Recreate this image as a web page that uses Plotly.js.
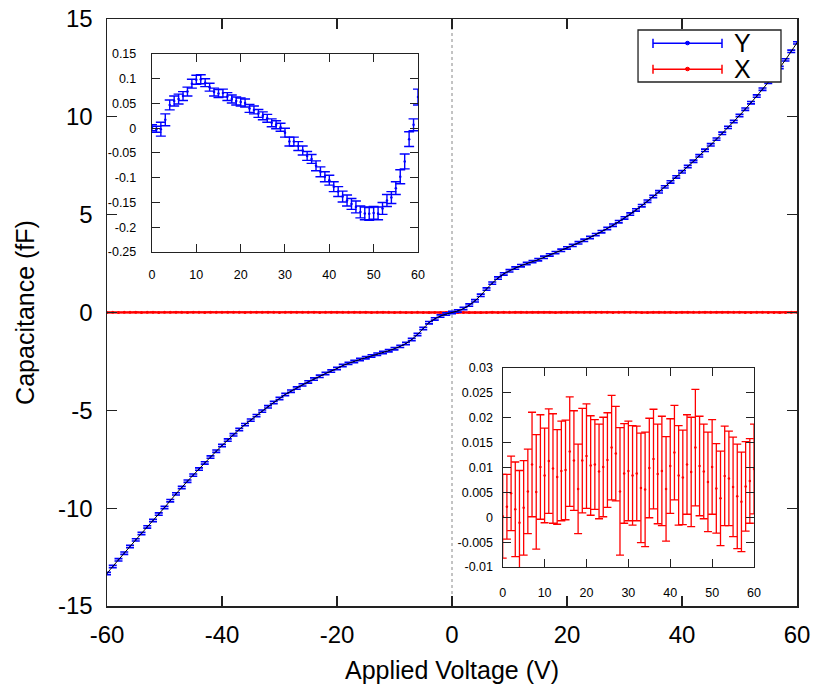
<!DOCTYPE html>
<html>
<head>
<meta charset="utf-8">
<script src="https://cdn.plot.ly/plotly-3.0.1.min.js"></script>
<style>html,body{margin:0;padding:0;background:#fff;}#chart{width:814px;height:685px;}</style>
</head>
<body>
<div id="chart"></div>
<script>
// ---------- data ----------
// Applied voltage, V (main plot, -60..60 step 1)
const voltage = [];
for (let v = -60; v <= 60; v++) voltage.push(v);
// inset voltages (0..60)
const insetVoltage = [];
for (let v = 0; v <= 60; v++) insetVoltage.push(v);

// Y capacitance (fF) at V = -60..-1
const capYNeg = [-13.34,-12.98,-12.64,-12.30,-11.96,-11.62,-11.29,-10.96,-10.63,-10.30,
  -9.97,-9.62,-9.27,-8.94,-8.62,-8.31,-8.00,-7.69,-7.39,-7.09,
  -6.80,-6.52,-6.25,-5.98,-5.73,-5.50,-5.27,-5.04,-4.82,-4.60,
  -4.40,-4.19,-4.02,-3.86,-3.70,-3.55,-3.40,-3.26,-3.12,-2.99,
  -2.86,-2.71,-2.60,-2.50,-2.40,-2.31,-2.22,-2.13,-2.04,-1.95,
  -1.85,-1.73,-1.58,-1.38,-1.12,-0.82,-0.52,-0.33,-0.18,-0.08];
// Y capacitance (fF) at V = 0..60
const capYPos = [0.00,0.08,0.20,0.38,0.60,0.88,1.20,1.50,1.76,1.97,
  2.13,2.27,2.39,2.50,2.60,2.70,2.82,2.94,3.06,3.18,
  3.30,3.43,3.56,3.69,3.83,3.98,4.13,4.29,4.46,4.64,
  4.83,5.03,5.24,5.46,5.69,5.93,6.17,6.42,6.67,6.93,
  7.19,7.46,7.73,8.01,8.29,8.57,8.86,9.16,9.46,9.76,
  10.07,10.39,10.72,11.06,11.41,11.77,12.14,12.52,12.91,13.35,13.78];
const capYErr = 0.06;

// X capacitance (fF) at V = -60..-1 (near zero)
const capXNeg = [0.006,0.008,0.004,0.009,0.007,0.010,0.005,0.008,0.011,0.006,
  0.009,0.007,0.012,0.008,0.005,0.010,0.009,0.006,0.011,0.008,
  0.007,0.010,0.012,0.009,0.006,0.008,0.011,0.007,0.010,0.009,
  0.005,0.008,0.012,0.010,0.007,0.009,0.011,0.006,0.008,0.010,
  0.013,0.009,0.007,0.010,0.008,0.011,0.006,0.009,0.010,0.007,
  0.005,0.008,0.006,0.004,0.007,0.005,0.003,0.004,0.002,0.001];
// X capacitance (fF) at V = 0..60 (lower-right inset)
const capXPos = [0.0002,0.0021,0.0048,0.0016,-0.0011,0.0019,0.0052,0.0106,0.0051,0.0101,
  0.0084,0.0113,0.0098,0.0081,0.0093,0.0095,0.0132,0.0114,0.0057,0.0114,
  0.0123,0.0104,0.0106,0.0092,0.0101,0.0115,0.0140,0.0128,0.0052,0.0088,
  0.0093,0.0084,0.0088,0.0059,0.0056,0.0099,0.0117,0.0087,0.0093,0.0057,
  0.0103,0.0130,0.0084,0.0080,0.0106,0.0091,0.0140,0.0103,0.0092,0.0071,
  0.0101,0.0058,0.0038,0.0083,0.0078,0.0061,0.0042,0.0031,0.0062,0.0073,0.0097];
const capXErr = [0.0084,0.0065,0.0075,0.0095,0.0105,0.0095,0.0085,0.0105,0.0115,0.0105,
  0.0095,0.0105,0.0110,0.0095,0.0100,0.0100,0.0110,0.0100,0.0090,0.0105,
  0.0105,0.0100,0.0090,0.0095,0.0100,0.0095,0.0105,0.0095,0.0128,0.0100,
  0.0100,0.0100,0.0095,0.0110,0.0115,0.0100,0.0100,0.0100,0.0110,0.0105,
  0.0095,0.0095,0.0100,0.0095,0.0100,0.0110,0.0117,0.0100,0.0095,0.0100,
  0.0095,0.0090,0.0095,0.0100,0.0095,0.0100,0.0105,0.0100,0.0090,0.0085,0.0090];

// Y residual (fF) at V = 0..60 (upper-left inset)
const residY = [0.001,-0.002,-0.002,0.017,0.047,0.055,0.059,0.065,0.074,0.090,
  0.098,0.099,0.092,0.083,0.073,0.070,0.071,0.064,0.059,0.055,
  0.053,0.051,0.040,0.037,0.030,0.025,0.020,0.011,0.007,0.002,
  -0.009,-0.027,-0.027,-0.036,-0.045,-0.056,-0.062,-0.076,-0.088,-0.098,
  -0.105,-0.118,-0.128,-0.138,-0.146,-0.153,-0.159,-0.169,-0.172,-0.173,
  -0.171,-0.172,-0.162,-0.146,-0.140,-0.121,-0.098,-0.067,-0.022,0.007,0.063];
const residYErr = [0.006,0.006,0.014,0.012,0.010,0.010,0.010,0.009,0.009,0.009,
  0.009,0.009,0.008,0.008,0.008,0.008,0.008,0.008,0.008,0.008,
  0.008,0.008,0.008,0.008,0.008,0.008,0.008,0.008,0.008,0.008,
  0.009,0.009,0.009,0.009,0.009,0.009,0.009,0.010,0.010,0.010,
  0.010,0.010,0.010,0.011,0.011,0.011,0.012,0.012,0.013,0.013,
  0.013,0.013,0.012,0.012,0.012,0.013,0.014,0.015,0.015,0.012,0.016];

// tick labels
const mainXTicks = [-60,-40,-20,0,20,40,60];
const mainXLabels = ["-60","-40","-20","0","20","40","60"];
const mainYTicks = [-15,-10,-5,0,5,10,15];
const mainYLabels = ["-15","-10","-5","0","5","10","15"];
const insetXTicks = [0,10,20,30,40,50,60];
const insetXLabels = ["0","10","20","30","40","50","60"];
const inset1YTicks = [-0.25,-0.2,-0.15,-0.1,-0.05,0,0.05,0.1,0.15];
const inset1YLabels = ["-0.25","-0.2","-0.15","-0.1","-0.05","0","0.05","0.1","0.15"];
const inset2YTicks = [-0.01,-0.005,0,0.005,0.01,0.015,0.02,0.025,0.03];
const inset2YLabels = ["-0.01","-0.005","0","0.005","0.01","0.015","0.02","0.025","0.03"];
const legendNames = ["Y","X"];

const capY = capYNeg.concat(capYPos);
const capX = capXNeg.concat(capXPos);

// ---------- styles ----------
const BLUE = "#0000ff";
const RED = "#ff0000";
const FONT = "Liberation Sans, Arial, Helvetica, sans-serif";

const traces = [
  { // X main: red line with tiny error bars
    x: voltage, y: capX, xaxis: "x", yaxis: "y", type: "scatter", mode: "lines+markers",
    line: {color: RED, width: 2}, marker: {color: RED, size: 3},
    error_y: {type: "constant", value: 0.01, color: RED, thickness: 1.5, width: 3},
    showlegend: false, hoverinfo: "skip"
  },
  { // Y main: blue error bars
    x: voltage, y: capY, xaxis: "x", yaxis: "y", type: "scatter", mode: "markers",
    marker: {color: BLUE, size: 1.5},
    error_y: {type: "constant", value: capYErr, color: BLUE, thickness: 1.6, width: 4},
    showlegend: false, hoverinfo: "skip"
  },
  { // Y fit line
    x: voltage, y: capY, xaxis: "x", yaxis: "y", type: "scatter", mode: "lines",
    line: {color: "#000", width: 1, shape: "spline"},
    showlegend: false, hoverinfo: "skip"
  },
  { // inset 1
    x: insetVoltage, y: residY, xaxis: "x2", yaxis: "y2", type: "scatter", mode: "markers",
    marker: {color: BLUE, size: 2.5},
    error_y: {type: "data", array: residYErr, color: BLUE, thickness: 1.4, width: 5},
    showlegend: false, hoverinfo: "skip"
  },
  { // inset 2
    x: insetVoltage, y: capXPos, xaxis: "x3", yaxis: "y3", type: "scatter", mode: "markers",
    marker: {color: RED, size: 2.5},
    error_y: {type: "data", array: capXErr, color: RED, thickness: 1.3, width: 4},
    showlegend: false, hoverinfo: "skip"
  }
];

const axisCommon = {
  showline: true, linecolor: "#222", linewidth: 1.5, mirror: "ticks",
  ticks: "inside", tickcolor: "#222", tickwidth: 1.3, showgrid: false, zeroline: false,
  tickmode: "array", fixedrange: true
};
const insetCommon = Object.assign({}, axisCommon, {linewidth: 1.2, tickwidth: 1, ticklen: 8,
  tickfont: {family: FONT, size: 12.5, color: "#000"}});

// legend geometry (paper coords)
const lgX0 = 0.7696, lgX1 = 0.9768, lgY0 = 0.8927, lgY1 = 0.9813;
const lgLineX0 = 0.7913, lgLineX1 = 0.8913, lgDotX = 0.8413;
const lgRows = [0.9585, 0.9143];
const lgColors = [BLUE, RED];
const capH = 0.0077;

const shapes = [
  {type: "line", xref: "x", yref: "y domain", x0: 0, x1: 0, y0: 0, y1: 1,
   line: {color: "#888", width: 1, dash: "dot"}, layer: "below"},
  {type: "line", xref: "x2 domain", yref: "y2", x0: 0, x1: 1, y0: 0, y1: 0,
   line: {color: "#888", width: 1, dash: "dot"}, layer: "below"},
  {type: "line", xref: "x3 domain", yref: "y3", x0: 0, x1: 1, y0: 0, y1: 0,
   line: {color: "#888", width: 1, dash: "dot"}, layer: "below"},
  {type: "rect", xref: "paper", yref: "paper", x0: lgX0, x1: lgX1, y0: lgY0, y1: lgY1,
   line: {color: "#222", width: 1.3}, fillcolor: "#fff"}
];
const annotations = [];
lgRows.forEach((ry, i) => {
  const c = lgColors[i];
  shapes.push({type: "line", xref: "paper", yref: "paper", x0: lgLineX0, x1: lgLineX1, y0: ry, y1: ry, line: {color: c, width: 1.5}});
  shapes.push({type: "line", xref: "paper", yref: "paper", x0: lgLineX0, x1: lgLineX0, y0: ry - capH, y1: ry + capH, line: {color: c, width: 1.5}});
  shapes.push({type: "line", xref: "paper", yref: "paper", x0: lgLineX1, x1: lgLineX1, y0: ry - capH, y1: ry + capH, line: {color: c, width: 1.5}});
  shapes.push({type: "circle", xref: "paper", yref: "paper", x0: lgDotX - 0.003, x1: lgDotX + 0.003, y0: ry - 0.0025, y1: ry + 0.0035, line: {color: c, width: 1}, fillcolor: c});
  annotations.push({xref: "paper", yref: "paper", x: 0.9217, y: ry, text: legendNames[i], showarrow: false,
    xanchor: "center", yanchor: "middle", height: 24, borderpad: 0,
    font: {family: FONT, size: 25, color: "#000"}});
});

const layout = {
  width: 814, height: 685,
  margin: {l: 107, r: 17, t: 19, b: 79, pad: 0},
  paper_bgcolor: "#fff", plot_bgcolor: "#fff",
  font: {family: FONT, color: "#000"},
  showlegend: false,
  xaxis: Object.assign({}, axisCommon, {
    domain: [0, 1], range: [-60, 60], tickvals: mainXTicks, ticktext: mainXLabels, ticklen: 10,
    tickfont: {family: FONT, size: 24}, ticklabelstandoff: 7,
    title: {text: "Applied Voltage (V)", font: {family: FONT, size: 25}, standoff: 14}
  }),
  yaxis: Object.assign({}, axisCommon, {
    domain: [0, 1], range: [-15, 15], tickvals: mainYTicks, ticktext: mainYLabels, ticklen: 10,
    tickfont: {family: FONT, size: 24}, ticklabelstandoff: 8,
    title: {text: "Capacitance (fF)", font: {family: FONT, size: 25}, standoff: 16}
  }),
  xaxis2: Object.assign({}, insetCommon, {
    anchor: "y2", domain: [0.0652, 0.4507], range: [0, 60], tickvals: insetXTicks, ticktext: insetXLabels,
    ticklabelstandoff: 11
  }),
  yaxis2: Object.assign({}, insetCommon, {
    anchor: "x2", domain: [0.6031, 0.9404], range: [-0.25, 0.15], tickvals: inset1YTicks, ticktext: inset1YLabels,
    ticklabelstandoff: 12
  }),
  xaxis3: Object.assign({}, insetCommon, {
    anchor: "y3", domain: [0.5735, 0.9377], range: [0, 60], tickvals: insetXTicks, ticktext: insetXLabels,
    ticklabelstandoff: 14
  }),
  yaxis3: Object.assign({}, insetCommon, {
    anchor: "x3", domain: [0.0664, 0.4055], range: [-0.01, 0.03], tickvals: inset2YTicks, ticktext: inset2YLabels,
    ticklabelstandoff: 6
  }),
  shapes: shapes,
  annotations: annotations
};

Plotly.newPlot("chart", traces, layout, {staticPlot: true, displayModeBar: false});
</script>
</body>
</html>
